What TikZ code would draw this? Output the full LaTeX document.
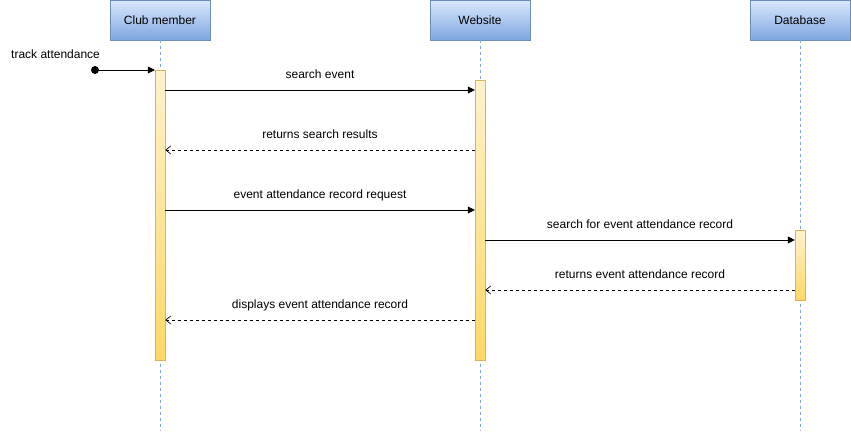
\documentclass[tikz,border=0pt]{standalone}
\usepackage{fontspec}
\setmainfont{Liberation Sans}
\usetikzlibrary{positioning, arrows.meta}

\definecolor{hdrtop}{HTML}{DAE8FC}
\definecolor{hdrbot}{HTML}{7EA6E0}
\definecolor{hdrline}{HTML}{6C8EBF}
\definecolor{acttop}{HTML}{FFF2CC}
\definecolor{actbot}{HTML}{FFD966}
\definecolor{actline}{HTML}{D6B656}

\tikzset{
    every node/.style={font=\fontsize{12}{14}\selectfont},
    actor/.style={draw=hdrline, top color=hdrtop, bottom color=hdrbot, minimum width=100pt, minimum height=40pt, inner sep=0pt},
    act/.style={draw=actline, top color=acttop, bottom color=actbot, minimum width=10pt, inner sep=0pt},
    lifeline/.style={draw=hdrbot, dash pattern=on 3pt off 3pt},
    msg/.style={-{Triangle[length=7pt,width=7pt]}, line width=0.8pt},
    ret/.style={-{Straight Barb[length=5pt,width=8pt]}, dash pattern=on 3pt off 3pt, line width=0.7pt},
    lbl/.style={text height=9pt, text depth=3pt, inner sep=0pt, yshift=14.5pt}
}

\begin{document}
\begin{tikzpicture}[x=1pt, y=-1pt]
    \useasboundingbox (0,0) rectangle (851,431);

    \node[actor] (member) at (160,20) {Club member};
    \node[actor] (website) at (480,20) {Website};
    \node[actor] (database) at (800,20) {Database};

    % lifelines
    \draw[lifeline] (member.south) -- (member.south |- 0,431);
    \draw[lifeline] (website.south) -- (website.south |- 0,431);
    \draw[lifeline] (database.south) -- (database.south |- 0,431);

    % activations
    \node[act, minimum height=290pt] (actm) at (160,215) {};
    \node[act, minimum height=280pt] (actw) at (480,220) {};
    \node[act, minimum height=70pt] (actd) at (800,265) {};

    \node[circle, fill=black, inner sep=0pt, minimum size=8pt] (start) at (95,70) {};
    \node[inner sep=0pt, anchor=west] (track) at (11,54) {track attendance};

    \draw[msg] (start) -- (actm.west |- start);
    \draw[msg] (actm.east |- 0,90) -- node[lbl] {search event} (actw.west |- 0,90);
    \draw[ret] (actw.west |- 0,150) -- node[lbl] {returns search results} (actm.east |- 0,150);
    \draw[msg] (actm.east |- 0,210) -- node[lbl] {event attendance record request} (actw.west |- 0,210);
    \draw[msg] (actw.east |- 0,240) -- node[lbl] {search for event attendance record} (actd.west |- 0,240);
    \draw[ret] (actd.west |- 0,290) -- node[lbl] {returns event attendance record} (actw.east |- 0,290);
    \draw[ret] (actw.west |- 0,320) -- node[lbl] {displays event attendance record} (actm.east |- 0,320);
\end{tikzpicture}
\end{document}
